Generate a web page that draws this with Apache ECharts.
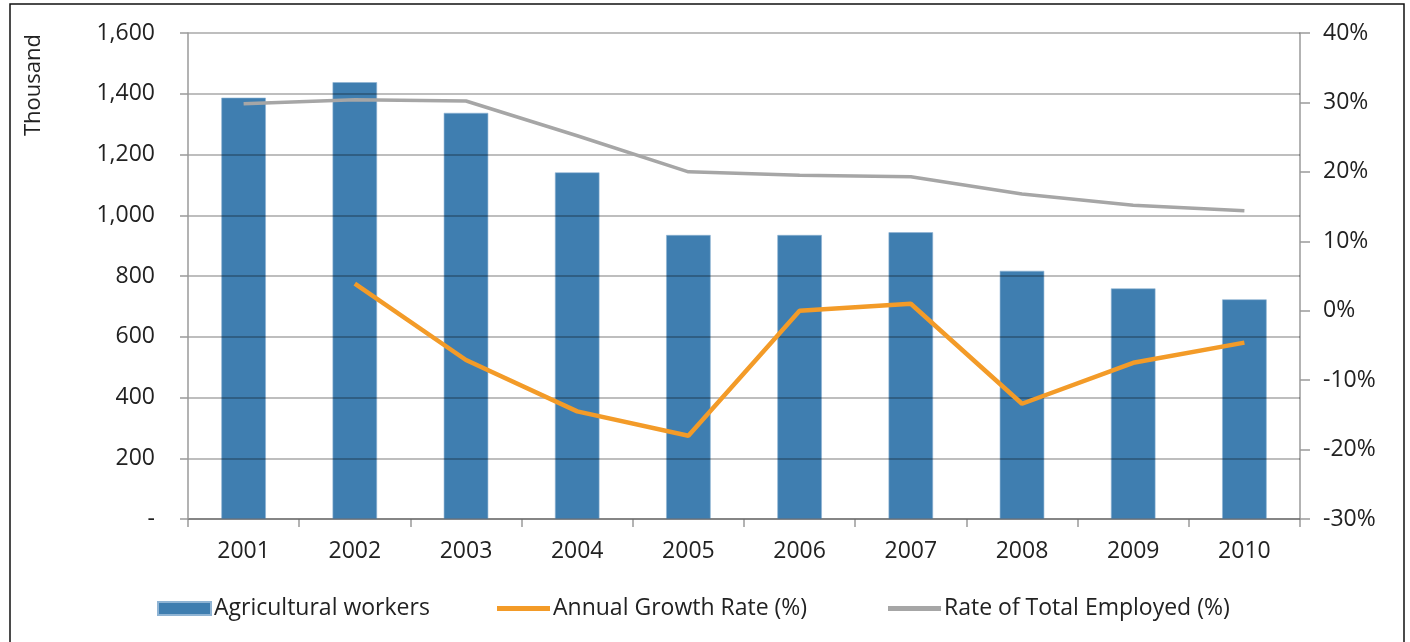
<!DOCTYPE html>
<html>
<head>
<meta charset="utf-8">
<script src="https://cdn.jsdelivr.net/npm/echarts@6/dist/echarts.min.js"></script>
<style>
  html, body { margin: 0; padding: 0; background: #fff; }
  #main { width: 1410px; height: 642px; }
</style>
</head>
<body>
<div id="main"></div>
<script>
const years = ['2001', '2002', '2003', '2004', '2005', '2006', '2007', '2008', '2009', '2010'];
const agriWorkers = [1387, 1438, 1337, 1141, 935, 935, 944, 817, 759, 723];   // thousand
const growthRate = [null, 3.9, -7.1, -14.5, -18.0, 0.0, 1.0, -13.4, -7.5, -4.6]; // %
const shareEmployed = [29.8, 30.4, 30.2, 25.2, 20.0, 19.5, 19.3, 16.8, 15.2, 14.4]; // %
const seriesNames = ['Agricultural workers', 'Annual Growth Rate (%)', 'Rate of Total Employed (%)'];

const chartDom = document.getElementById('main');
const myChart = echarts.init(chartDom);

const font = '"Open Sans", "Noto Sans", sans-serif';
const textColor = '#222';
const lineIcon = 'path://M0,0 H53 V5 H0 Z';

// one legend per item so each sits where it does in the original
function legendAt(left, name, icon) {
    return {
        left: left,
        top: 592,
        itemWidth: 53,
        itemHeight: 13,
        textStyle: { fontSize: 23, color: textColor, padding: [0, 0, 0, -2] },
        data: [{ name: name, icon: icon }]
    };
}

const option = {
    animation: false,
    textStyle: { fontFamily: font },
    grid: { left: 188, right: 110, top: 33, height: 486 },
    legend: [
        legendAt(152, seriesNames[0], 'rect'),
        legendAt(492, seriesNames[1], lineIcon),
        legendAt(883, seriesNames[2], lineIcon)
    ],
    graphic: [
        {
            type: 'rect',
            shape: { x: 10, y: 4, width: 1394, height: 700 },
            style: { fill: 'none', stroke: '#111', lineWidth: 1.5 },
            silent: true
        },
        {
            type: 'text',
            x: 34, y: 85,
            rotation: Math.PI / 2,
            style: {
                text: 'Thousand',
                fill: textColor,
                font: '22px ' + font,
                align: 'center',
                verticalAlign: 'middle'
            }
        }
    ],
    xAxis: {
        type: 'category',
        data: years,
        boundaryGap: true,
        axisLine: { lineStyle: { color: '#9a9a9a', width: 1.5 } },
        axisTick: { show: true, length: 8, lineStyle: { color: '#9a9a9a', width: 1.5 } },
        axisLabel: { fontSize: 23, color: textColor, margin: 21 }
    },
    yAxis: [
        {
            type: 'value',
            min: 0,
            max: 1600,
            interval: 200,
            z: 3,
            axisLine: { show: true, lineStyle: { color: '#9a9a9a', width: 1.5 } },
            axisTick: { show: true, length: 8, lineStyle: { color: '#9a9a9a', width: 1.5 } },
            splitLine: { show: true, lineStyle: { color: 'rgba(0,0,0,0.34)', width: 1.5 } },
            axisLabel: {
                fontSize: 23,
                color: textColor,
                margin: 33,
                formatter: function (v) {
                    return v === 0 ? '-' : v.toLocaleString('en-US');
                }
            }
        },
        {
            type: 'value',
            min: -30,
            max: 40,
            interval: 10,
            position: 'right',
            axisLine: { show: true, lineStyle: { color: '#9a9a9a', width: 1.5 } },
            axisTick: { show: true, length: 10, lineStyle: { color: '#9a9a9a', width: 1.5 } },
            splitLine: { show: false },
            axisLabel: {
                fontSize: 23,
                color: textColor,
                margin: 23,
                formatter: '{value}%'
            }
        }
    ],
    series: [
        {
            name: seriesNames[0],
            type: 'bar',
            data: agriWorkers,
            barWidth: '40%',
            itemStyle: { color: '#3f7eb0', borderColor: '#8fb4d4', borderWidth: 0.6 }
        },
        {
            name: seriesNames[1],
            type: 'line',
            yAxisIndex: 1,
            data: growthRate,
            symbol: 'none',
            z: 5,
            lineStyle: { color: '#f39b28', width: 4.5 },
            itemStyle: { color: '#f39b28' }
        },
        {
            name: seriesNames[2],
            type: 'line',
            yAxisIndex: 1,
            data: shareEmployed,
            symbol: 'none',
            z: 5,
            lineStyle: { color: '#a6a6a6', width: 3.5 },
            itemStyle: { color: '#a6a6a6' }
        }
    ]
};

myChart.setOption(option);
window.addEventListener('resize', () => {
    myChart.resize();
});
</script>
</body>
</html>
